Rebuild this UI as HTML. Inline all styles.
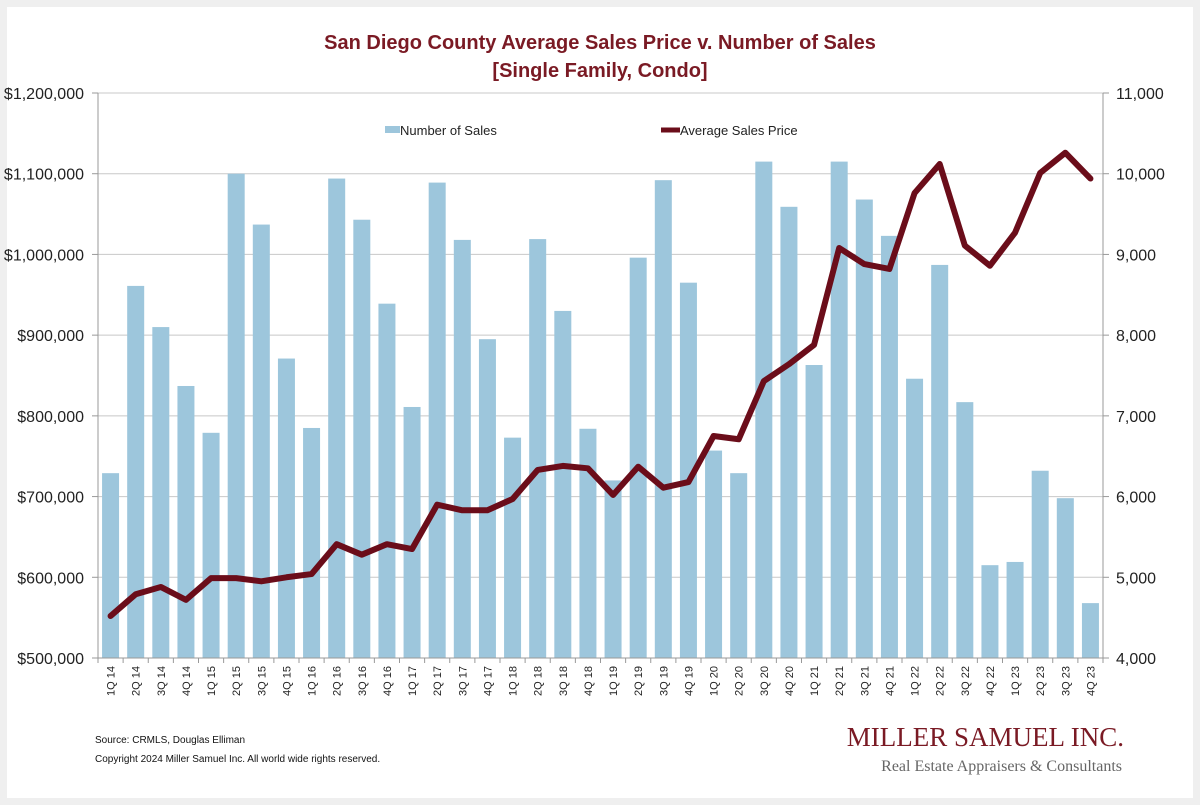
<!DOCTYPE html>
<html><head><meta charset="utf-8"><style>
body{margin:0;background:#efefef;font-family:"Liberation Sans",Arial,sans-serif}
#panel{position:absolute;left:7px;top:7px;width:1186px;height:791px;background:#fff}
svg{position:absolute;left:0;top:0}
</style></head><body>
<div id="panel"></div>
<svg id="chart" width="1200" height="805"></svg>
<script>
const categories=["1Q 14","2Q 14","3Q 14","4Q 14","1Q 15","2Q 15","3Q 15","4Q 15","1Q 16","2Q 16","3Q 16","4Q 16","1Q 17","2Q 17","3Q 17","4Q 17","1Q 18","2Q 18","3Q 18","4Q 18","1Q 19","2Q 19","3Q 19","4Q 19","1Q 20","2Q 20","3Q 20","4Q 20","1Q 21","2Q 21","3Q 21","4Q 21","1Q 22","2Q 22","3Q 22","4Q 22","1Q 23","2Q 23","3Q 23","4Q 23"];
const salesCount=[6290,8610,8100,7370,6790,10000,9370,7710,6850,9940,9430,8390,7110,9890,9180,7950,6730,9190,8300,6840,6200,8960,9920,8650,6570,6290,10150,9590,7630,10150,9680,9230,7460,8870,7170,5150,5190,6320,5980,4680];
const avgPrice=[552000,579000,588000,572000,599000,599000,595000,600000,604000,641000,628000,641000,635000,690000,683000,683000,697000,733000,738000,735000,702000,737000,711000,718000,775000,771000,843000,864000,888000,1008000,988000,982000,1076000,1112000,1011000,986000,1027000,1101000,1126000,1094000];
const leftTicks=[500000,600000,700000,800000,900000,1000000,1100000,1200000];
const rightTicks=[4000,5000,6000,7000,8000,9000,10000,11000];

const svg=document.getElementById('chart');
const NS='http://www.w3.org/2000/svg';
const X0=98,X1=1103,Y0=658,Y1=93;
const slot=(X1-X0)/categories.length;
const xC=i=>X0+slot*(i+0.5);
const yL=v=>Y0-(v-500000)/700000*(Y0-Y1);
const yR=v=>Y0-(v-4000)/7000*(Y0-Y1);
function mk(t,a,txt){const e=document.createElementNS(NS,t);for(const k in a)e.setAttribute(k,a[k]);if(txt!==undefined)e.textContent=txt;svg.appendChild(e);return e;}

let e;
e=mk('text',{x:600,y:49,'text-anchor':'middle','font-size':20,'font-weight':'bold',fill:'#7a1a24'},'San Diego County Average Sales Price v. Number of Sales');


e=mk('text',{x:600,y:77,'text-anchor':'middle','font-size':20,'font-weight':'bold',fill:'#7a1a24'},'[Single Family, Condo]');



leftTicks.forEach((v,i)=>{
  const y=yL(v);
  e=mk('line',{x1:X0,x2:X1,y1:y,y2:y,stroke:'#c8c8c8','stroke-width':1});
  
  
  mk('line',{x1:X0-6,x2:X0,y1:y,y2:y,stroke:'#999'});
  e=mk('text',{x:84,y:y+6,'text-anchor':'end','font-size':16,fill:'#222'},'$'+v.toLocaleString('en-US'));
  
  
});
rightTicks.forEach(v=>{
  const y=yR(v);
  mk('line',{x1:X1,x2:X1+6,y1:y,y2:y,stroke:'#999'});
  e=mk('text',{x:1116,y:y+6,'font-size':16,fill:'#222'},v.toLocaleString('en-US'));
  
  
});
e=mk('line',{x1:X0,x2:X0,y1:Y1,y2:Y0,stroke:'#999'});


e=mk('line',{x1:X1,x2:X1,y1:Y1,y2:Y0,stroke:'#999'});



const bw=17;
salesCount.forEach((v,i)=>{
  const y=yR(v);
  e=mk('rect',{x:xC(i)-bw/2,y:y,width:bw,height:Y0-y,fill:'#9dc6dc'});
  
  
});
e=mk('line',{x1:X0,x2:X1,y1:Y0,y2:Y0,stroke:'#999'});


categories.forEach((c,i)=>{
  const x=X0+slot*i;
  mk('line',{x1:x,x2:x,y1:Y0,y2:Y0+5,stroke:'#999'});
  e=mk('text',{x:0,y:0,transform:`translate(${xC(i)+4},${Y0+8}) rotate(-90)`,'text-anchor':'end','font-size':11,fill:'#222'},c);
  
  
});
mk('line',{x1:X1,x2:X1,y1:Y0,y2:Y0+5,stroke:'#999'});

e=mk('polyline',{points:avgPrice.map((v,i)=>xC(i)+','+yL(v)).join(' '),fill:'none',stroke:'#6b0d1a','stroke-width':6,'stroke-linejoin':'round','stroke-linecap':'round'});



e=mk('rect',{x:385,y:126,width:15,height:7,fill:'#9dc6dc'});


e=mk('text',{x:400,y:135,'font-size':13,fill:'#222'},'Number of Sales');


e=mk('line',{x1:661,x2:680,y1:130,y2:130,stroke:'#6b0d1a','stroke-width':5});


e=mk('text',{x:680,y:135,'font-size':13,fill:'#222'},'Average Sales Price');



e=mk('text',{x:95,y:743,'font-size':10,fill:'#111'},'Source: CRMLS, Douglas Elliman');


e=mk('text',{x:95,y:762,'font-size':10,fill:'#111'},'Copyright 2024 Miller Samuel Inc.  All world wide rights reserved.');


e=mk('text',{x:1124,y:746,'text-anchor':'end','font-family':'Liberation Serif, serif','font-size':27,fill:'#7a1a24'},'MILLER SAMUEL INC.');


e=mk('text',{x:1122,y:771,'text-anchor':'end','font-family':'Liberation Serif, serif','font-size':16,fill:'#666'},'Real Estate Appraisers & Consultants');


</script>
</body></html>
